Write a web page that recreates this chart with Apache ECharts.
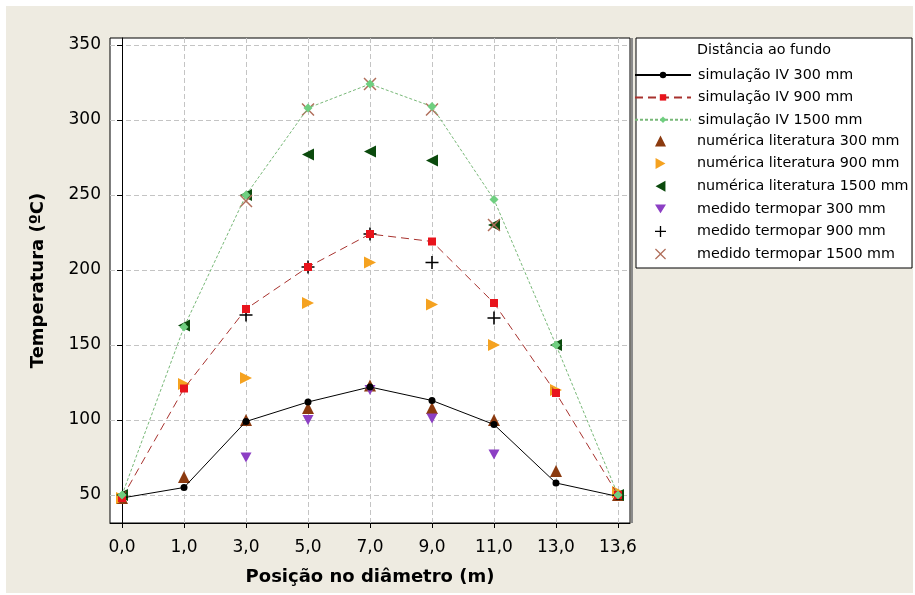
<!DOCTYPE html>
<html><head><meta charset="utf-8">
<script src="https://cdn.jsdelivr.net/npm/echarts@6/dist/echarts.min.js"></script>
<style>html,body{margin:0;padding:0;background:#fff}#c{width:915px;height:595px}</style>
</head><body><div id="c"></div>
<script>
var categories = ['0,0','1,0','3,0','5,0','7,0','9,0','11,0','13,0','13,6'];
var yTicks = [50, 100, 150, 200, 250, 300, 350];
var sim300  = [48, 55, 99, 112, 122, 113, 97, 58, 49];
var sim900  = [48, 121, 174, 202, 224, 219, 178, 118, 50];
var sim1500 = [50, 162, 250, 308, 324, 309, 247, 150, 50];
var num300  = [48, 62, 100, 108, 123, 108, 100, 66, 50];
var num900  = [48, 124, 128, 178, 205, 177, 150, 120, 52];
var num1500 = [50, 163, 250, 277, 279, 273, 230, 150, 50];
var med300  = [null, null, 75, 100, 120, 101, 77, null, null];
var med900  = [null, null, 170, 202, 224, 205, 168, null, null];
var med1500 = [null, null, 246, 307, 324, 307, 230, null, null];

function pts(arr){ var o=[]; arr.forEach(function(v,i){ if(v!==null) o.push([i,v]); }); return o; }
var xIdx = categories.map(function(c,i){return i;});
var PLUS = 'path://M4.4,0H5.6V4.4H10V5.6H5.6V10H4.4V5.6H0V4.4H4.4Z';
var CROSS = 'path://M0.8,0L5,4.2L9.2,0L10,0.8L5.8,5L10,9.2L9.2,10L5,5.8L0.8,10L0,9.2L4.2,5L0,0.8Z';
var TRI_UP = 'path://M5,0L10,10L0,10Z';
var TRI_RIGHT = 'path://M0,0L9,5L0,10Z';
var TRI_LEFT = 'path://M9,0L0,5L9,10Z';
var TRI_DOWN = 'path://M0,0L10,0L5,8Z';
var FONT = 'DejaVu Sans';
var LEG_TEXT = {fontFamily:FONT, fontSize:14.3, color:'#000', lineHeight:14};

var chart = echarts.init(document.getElementById('c'), null, {renderer:'canvas'});
var option = {
  animation: false,
  backgroundColor: '#ffffff',
  graphic: [
    {type:'rect', z:-10, shape:{x:6,y:6,width:907,height:587}, style:{fill:'#eeebe1'}},
    {type:'line', z:50, shape:{x1:632,y1:38,x2:632,y2:523}, style:{stroke:'#8a8a8a',lineWidth:2}},
    {type:'rect', z:40, shape:{x:636,y:38,width:276,height:230}, style:{fill:'#ffffff',stroke:'#000',lineWidth:1}},
    {type:'text', z:60, left:697, top:43, style:{text:'Distância ao fundo', font:'14.3px "DejaVu Sans"', fill:'#000'}}
  ],
  grid: {left:110, top:38, right:285, bottom:72, show:true, borderColor:'#000', borderWidth:1, backgroundColor:'#fff'},
  xAxis: {
    type:'value', min:-0.194, max:8.194, interval:1,
    name:'Posição no diâmetro (m)', nameLocation:'middle', nameGap:45,
    nameTextStyle:{fontFamily:FONT, fontWeight:'bold', fontSize:18, color:'#000'},
    axisLine:{show:true, lineStyle:{color:'#000'}},
    axisTick:{show:true, length:5, lineStyle:{color:'#000'}, customValues: xIdx},
    axisLabel:{fontFamily:FONT, fontSize:17, color:'#000', margin:16, customValues: xIdx,
      formatter:function(v){ var i=Math.round(v); return Math.abs(v-i)<1e-6 && categories[i]!==undefined ? categories[i] : ''; }},
    splitLine:{show:true, lineStyle:{color:'#c4c4c4', type:[5,3], width:1}}
  },
  yAxis: {
    type:'value', min:31.33, max:354.67, interval:25,
    name:'Temperatura (ºC)', nameLocation:'middle', nameGap:63, nameRotate:90,
    nameTextStyle:{fontFamily:FONT, fontWeight:'bold', fontSize:18, color:'#000'},
    axisLine:{show:true, lineStyle:{color:'#000'}},
    axisTick:{show:true, length:5, lineStyle:{color:'#000'}, customValues: yTicks},
    axisLabel:{fontFamily:FONT, fontSize:17, color:'#000', margin:9, customValues: yTicks,
      formatter:function(v){ return (Math.abs(v%50)<1e-6) ? String(v) : ''; }},
    splitLine:{show:true, lineStyle:{color:'#c4c4c4', type:[5,3], width:1}}
  },
  legend: [
    {
      orient:'vertical', left:634, top:68, padding:0, itemWidth:56, itemHeight:8, itemGap:8.4,
      textStyle:Object.assign({padding:[0,0,0,2]}, LEG_TEXT), z:60,
      data:['simulação IV 300 mm','simulação IV 900 mm','simulação IV 1500 mm']
    },
    {
      orient:'vertical', left:655, top:134, padding:0, itemWidth:11, itemHeight:11, itemGap:8.6,
      textStyle:Object.assign({padding:[0,0,0,26]}, LEG_TEXT), z:60,
      data:[
        {name:'numérica literatura 300 mm', icon:TRI_UP},
        {name:'numérica literatura 900 mm', icon:TRI_RIGHT},
        {name:'numérica literatura 1500 mm', icon:TRI_LEFT},
        {name:'medido termopar 300 mm', icon:TRI_DOWN},
        {name:'medido termopar 900 mm', icon:PLUS},
        {name:'medido termopar 1500 mm', icon:CROSS}
      ]
    }
  ],
  series: [
    {name:'simulação IV 300 mm', type:'line', data:pts(sim300), symbol:'circle', symbolSize:7,
      itemStyle:{color:'#000'}, lineStyle:{color:'#000', width:1}},
    {name:'simulação IV 900 mm', type:'line', data:pts(sim900), symbol:'rect', symbolSize:8,
      itemStyle:{color:'#e8141c'}, lineStyle:{color:'#a8322e', width:1, type:[8,5]}},
    {name:'simulação IV 1500 mm', type:'line', data:pts(sim1500), symbol:'diamond', symbolSize:9,
      itemStyle:{color:'#6fcf80'}, lineStyle:{color:'#78b878', width:1, type:[3,2]}},
    {name:'numérica literatura 300 mm', type:'scatter', data:pts(num300), symbol:'triangle', symbolSize:[12,12],
      itemStyle:{color:'#8b3a0f', opacity:1}},
    {name:'numérica literatura 900 mm', type:'scatter', data:pts(num900), symbol:'triangle', symbolRotate:-90, symbolSize:[12,12],
      itemStyle:{color:'#f5a220', opacity:1}},
    {name:'numérica literatura 1500 mm', type:'scatter', data:pts(num1500), symbol:'triangle', symbolRotate:90, symbolSize:[12,12],
      itemStyle:{color:'#0b4a0d', opacity:1}},
    {name:'medido termopar 300 mm', type:'scatter', data:pts(med300), symbol:'triangle', symbolRotate:180, symbolSize:[11,10],
      itemStyle:{color:'#8c3fc4', opacity:1}},
    {name:'medido termopar 900 mm', type:'scatter', data:pts(med900), symbol:PLUS, symbolSize:13,
      itemStyle:{color:'#000', opacity:1}},
    {name:'medido termopar 1500 mm', type:'scatter', data:pts(med1500), symbol:CROSS, symbolSize:13,
      itemStyle:{color:'#b06e5a', opacity:1}}
  ]
};
chart.setOption(option);
</script></body></html>
